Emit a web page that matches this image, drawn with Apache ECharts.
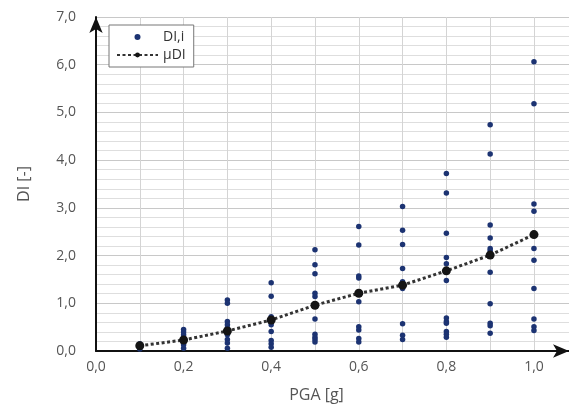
<!DOCTYPE html>
<html><head><meta charset="utf-8">
<script src="https://cdn.jsdelivr.net/npm/echarts@6/dist/echarts.min.js"></script>
<style>html,body{margin:0;padding:0;background:#fff}#c{width:569px;height:408px}</style>
</head><body><div id="c"></div>
<script>
const pga = [0.1, 0.2, 0.3, 0.4, 0.5, 0.6, 0.7, 0.8, 0.9, 1.0];
const di_01 = [0.15, 0.11, 0.07, 0.04];
const di_02 = [0.45, 0.40, 0.34, 0.26, 0.20, 0.13, 0.06];
const di_03 = [1.07, 1.00, 0.62, 0.55, 0.48, 0.34, 0.24, 0.17, 0.06];
const di_04 = [1.43, 1.15, 0.72, 0.55, 0.41, 0.22, 0.15, 0.08];
const di_05 = [2.12, 1.81, 1.62, 1.21, 1.14, 0.67, 0.35, 0.29, 0.24, 0.19];
const di_06 = [2.61, 2.22, 1.57, 1.53, 1.03, 0.51, 0.44, 0.26, 0.19];
const di_07 = [3.03, 2.53, 2.23, 1.73, 1.45, 1.31, 0.57, 0.33, 0.24];
const di_08 = [3.72, 3.31, 2.47, 1.96, 1.83, 1.48, 0.69, 0.62, 0.58, 0.41, 0.35, 0.29];
const di_09 = [4.74, 4.13, 2.64, 2.37, 2.15, 2.10, 1.65, 0.99, 0.58, 0.53, 0.37];
const di_10 = [6.06, 5.18, 3.08, 2.93, 2.15, 1.90, 1.31, 0.67, 0.51, 0.43];
const muDI = [0.11, 0.23, 0.42, 0.65, 0.96, 1.21, 1.38, 1.68, 2.01, 2.44];
const xTicks = ['0,0', '0,2', '0,4', '0,6', '0,8', '1,0'];
const yTicks = ['0,0', '1,0', '2,0', '3,0', '4,0', '5,0', '6,0', '7,0'];

const groups = [di_01, di_02, di_03, di_04, di_05, di_06, di_07, di_08, di_09, di_10];
const scatterData = [];
groups.forEach((g, i) => g.forEach(v => scatterData.push([pga[i], v])));
const meanData = pga.map((x, i) => [x, muDI[i]]);

const fmtX = v => { const i = Math.round(v / 0.2); return (Math.abs(v - i * 0.2) < 1e-6 && i < xTicks.length) ? xTicks[i] : ''; };
const fmtY = v => { const i = Math.round(v); return (Math.abs(v - i) < 1e-6 && i < yTicks.length) ? yTicks[i] : ''; };

const chart = echarts.init(document.getElementById('c'));
const font = '"Open Sans", "Noto Sans", sans-serif';
chart.setOption({
  animation: false,
  textStyle: { fontFamily: font },
  grid: { left: 96, top: 17, width: 475, height: 336 },
  legend: {
    left: 109, top: 25, orient: 'vertical',
    backgroundColor: '#fff', borderColor: '#777', borderWidth: 1,
    padding: [5, 8, 5, 7], itemGap: 4, itemWidth: 41, itemHeight: 6,
    textStyle: { fontFamily: font, fontSize: 14, color: '#333' },
    data: ['DI,i', 'μDI']
  },
  xAxis: {
    type: 'value', min: 0, max: 1.08, interval: 0.2,
    name: 'PGA [g]', nameLocation: 'middle', nameGap: 36,
    nameTextStyle: { fontSize: 16, color: '#555', padding: [0, 32, 0, 0] },
    axisLine: { lineStyle: { color: '#111', width: 2 }, symbol: ['none', 'arrow'], symbolSize: [10, 16], symbolOffset: [0, 0] },
    axisTick: { show: false },
    axisLabel: { formatter: fmtX, fontSize: 14, color: '#555', margin: 9, showMaxLabel: false },
    splitLine: { show: true, lineStyle: { color: '#d4d4d4', width: 1 } },
    minorTick: { show: false, splitNumber: 2 },
    minorSplitLine: { show: true, lineStyle: { color: '#d4d4d4', width: 1 } }
  },
  yAxis: {
    type: 'value', min: 0, max: 7, interval: 1,
    name: 'DI [-]', nameLocation: 'middle', nameGap: 64, nameRotate: 90,
    nameTextStyle: { fontSize: 16, color: '#555' },
    axisLine: { show: true, lineStyle: { color: '#111', width: 2 }, symbol: ['none', 'arrow'], symbolSize: [10, 16] },
    axisTick: { show: false },
    axisLabel: { formatter: fmtY, fontSize: 14, color: '#555', margin: 20 },
    splitLine: { show: true, lineStyle: { color: '#c8c8c8', width: 1 } },
    minorTick: { show: false, splitNumber: 5 },
    minorSplitLine: { show: true, lineStyle: { color: '#dedede', width: 1 } }
  },
  series: [
    {
      name: 'DI,i', type: 'scatter', data: scatterData,
      symbol: 'circle', symbolSize: 5.5,
      itemStyle: { color: '#1c3372', opacity: 1 }, z: 2
    },
    {
      name: 'μDI', type: 'line', data: meanData,
      symbol: 'circle', symbolSize: 9, showSymbol: true,
      itemStyle: { color: '#141414' },
      lineStyle: { color: '#333', width: 3, type: [3, 2.5] }, z: 3
    }
  ]
});
</script></body></html>
